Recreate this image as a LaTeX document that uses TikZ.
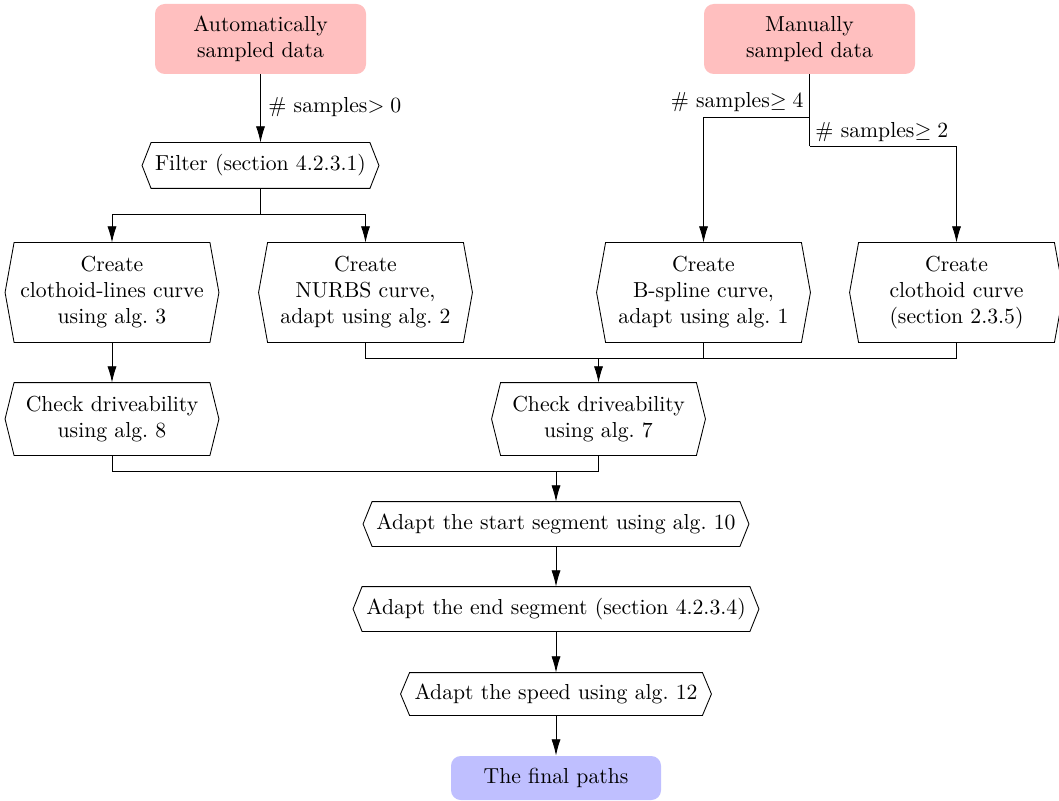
\documentclass[tikz,border=0pt]{standalone}
\usetikzlibrary{arrows.meta,calc}
\newlength\pxu \setlength\pxu{0.4608pt}
\begin{document}
\begin{tikzpicture}[x=0.4608pt,y=-0.4608pt,
  srcbox/.style={fill=red!25, rounded corners=4.5pt, minimum width=211\pxu, minimum height=70\pxu, align=center, inner sep=0pt},
  endbox/.style={fill=blue!25, rounded corners=4.5pt, minimum width=210\pxu, minimum height=44\pxu, align=center, inner sep=0pt},
  hexbox/.style={align=center, inner sep=0pt},
  arr/.style={-{Latex[length=7.5pt,width=4.2pt]}},
  lbl/.style={inner sep=0pt}
]
\useasboundingbox (0,0) rectangle (1059,800);
\node[srcbox] (auto) at (260.5,39) {Automatically\\sampled data};
\node[srcbox] (man) at (809.5,39) {Manually\\sampled data};
\node[hexbox, minimum width=218\pxu, minimum height=45\pxu] (filter) at (260.5,165.5) {Filter (section 4.2.3.1)};
\node[hexbox, minimum width=195\pxu, minimum height=99\pxu] (cl) at (112,292.5) {Create\\clothoid-lines curve\\using alg.~3};
\node[hexbox, minimum width=195\pxu, minimum height=99\pxu] (nurbs) at (365.5,292.5) {Create\\NURBS curve,\\adapt using alg.~2};
\node[hexbox, minimum width=195\pxu, minimum height=99\pxu] (bsp) at (703.5,292.5) {Create\\B-spline curve,\\adapt using alg.~1};
\node[hexbox, minimum width=195\pxu, minimum height=99\pxu] (clo) at (956.5,292.5) {Create\\clothoid curve\\(section 2.3.5)};
\node[hexbox, minimum width=195\pxu, minimum height=72\pxu] (chk8) at (112,419) {Check driveability\\using alg.~8};
\node[hexbox, minimum width=195\pxu, minimum height=72\pxu] (chk7) at (598.5,419) {Check driveability\\using alg.~7};
\node[hexbox, minimum width=367\pxu, minimum height=44\pxu] (ads) at (556,524) {Adapt the start segment using alg.~10};
\node[hexbox, minimum width=387\pxu, minimum height=44\pxu] (ade) at (556,609) {Adapt the end segment (section 4.2.3.4)};
\node[hexbox, minimum width=292\pxu, minimum height=42\pxu] (spd) at (556,694) {Adapt the speed using alg.~12};
\node[endbox] (fin) at (556,778) {The final paths};
\foreach \n in {filter,cl,nurbs,bsp,clo,chk8,chk7,ads,ade,spd}
  \draw (\n.north west) -- (\n.north east) -- ([xshift=9\pxu]\n.east) -- (\n.south east) -- (\n.south west) -- ([xshift=-9\pxu]\n.west) -- cycle;
% edges
\draw[arr] (auto.south) -- (filter.north);
\node[lbl, anchor=base west] (l0) at (268,113) {\# samples$>0$};
\coordinate (fj) at (260.5,214);
\draw (filter.south) -- (fj);
\draw[arr] (fj) -| (cl.north);
\draw[arr] (fj) -| (nurbs.north);
\coordinate (mj1) at (809.5,117);
\coordinate (mj2) at (809.5,146);
\draw (man.south) -- (mj2);
\draw[arr] (mj1) -| (bsp.north);
\draw[arr] (mj2) -| (clo.north);
\node[lbl, anchor=base east] (l4) at (804,108) {\# samples$\geq 4$};
\node[lbl, anchor=base west] (l2) at (815,138) {\# samples$\geq 2$};
\coordinate (j1) at (598.5,358);
\draw (nurbs.south) |- (j1);
\draw (bsp.south) |- (j1);
\draw (clo.south) |- (j1);
\draw[arr] (j1) -- (chk7.north);
\draw[arr] (cl.south) -- (chk8.north);
\coordinate (j2) at (556,471);
\draw (chk8.south) |- (j2);
\draw (chk7.south) |- (j2);
\draw[arr] (j2) -- (ads.north);
\draw[arr] (ads.south) -- (ade.north);
\draw[arr] (ade.south) -- (spd.north);
\draw[arr] (spd.south) -- (fin.north);
\end{tikzpicture}
\end{document}
